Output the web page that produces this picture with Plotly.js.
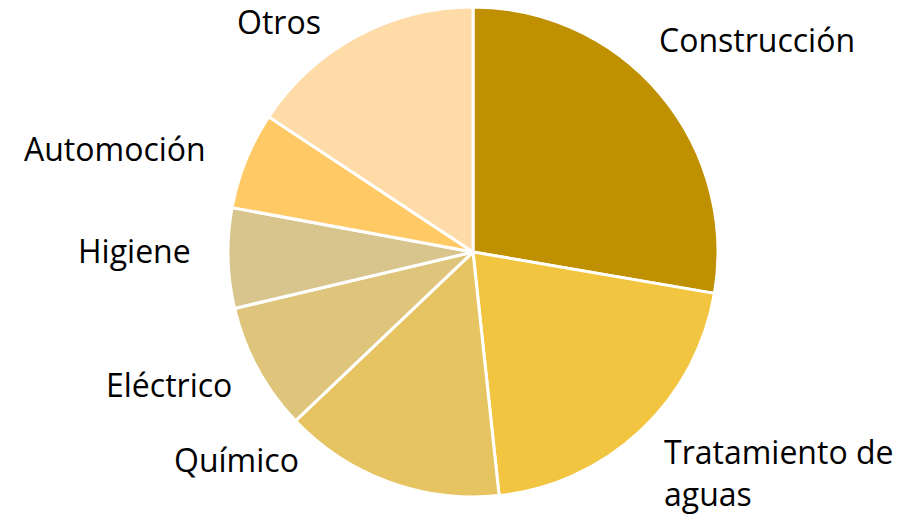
<!DOCTYPE html>
<html>
<head>
<meta charset="utf-8">
<script src="https://cdn.plot.ly/plotly-3.0.1.min.js"></script>
<style>html,body{margin:0;padding:0;background:#fff;}#chart{width:918px;height:518px;}</style>
</head>
<body>
<div id="chart"></div>
<script>
const sectors = ["Construcción", "Tratamiento de aguas", "Químico", "Eléctrico", "Higiene", "Automoción", "Otros"];
const shares = [27.7, 20.6, 14.6, 8.4, 6.6, 6.4, 15.7];
const sliceColors = ["#BF9000", "#F2C540", "#E6C462", "#DFC47B", "#D8C48D", "#FFC966", "#FFDBA8"];
const labelText = ["Construcción", "Tratamiento de<br>aguas", "Químico", "Eléctrico", "Higiene", "Automoción", "Otros"];

const labelPos = [
  {x: 0.716, y: 0.923, xanchor: "left"},
  {x: 0.721, y: 0.087, xanchor: "left"},
  {x: 0.258, y: 0.112, xanchor: "center"},
  {x: 0.184, y: 0.257, xanchor: "center"},
  {x: 0.146, y: 0.517, xanchor: "center"},
  {x: 0.125, y: 0.714, xanchor: "center"},
  {x: 0.304, y: 0.958, xanchor: "center"}
];

const trace = {
  type: "pie",
  labels: sectors,
  values: shares,
  sort: false,
  direction: "clockwise",
  rotation: 0,
  textinfo: "none",
  hoverinfo: "label+percent",
  marker: {colors: sliceColors, line: {color: "#FFFFFF", width: 3}},
  domain: {x: [228/918, 718/918], y: [21/518, 511/518]},
  showlegend: false
};

const annotations = labelText.map((t, i) => ({
  text: t,
  xref: "paper", yref: "paper",
  x: labelPos[i].x, y: labelPos[i].y,
  xanchor: labelPos[i].xanchor, yanchor: "middle",
  align: "left",
  showarrow: false,
  font: {family: "Open Sans, sans-serif", size: 32, color: "#000000"}
}));

const layout = {
  width: 918, height: 518,
  margin: {l: 0, r: 0, t: 0, b: 0},
  paper_bgcolor: "#FFFFFF",
  plot_bgcolor: "#FFFFFF",
  annotations: annotations
};

Plotly.newPlot("chart", [trace], layout, {displayModeBar: false, staticPlot: true});
</script>
</body>
</html>
